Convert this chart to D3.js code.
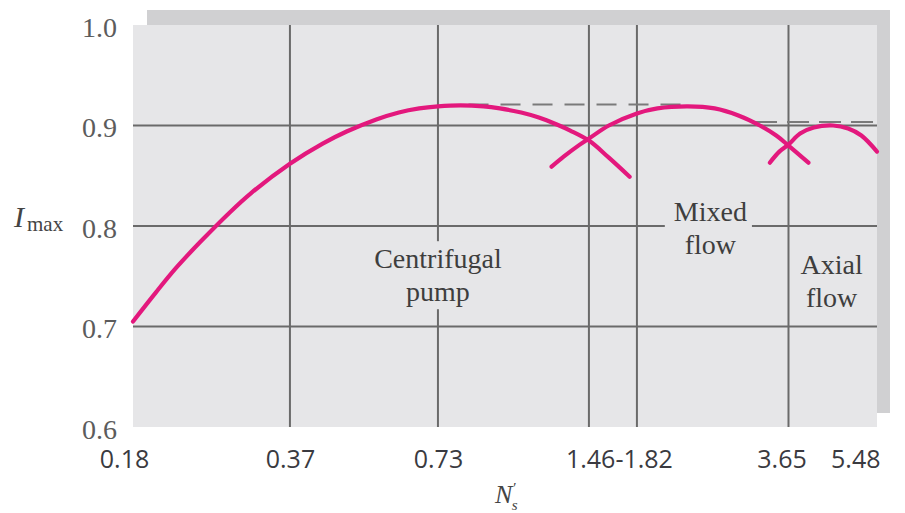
<!DOCTYPE html>
<html>
<head>
<meta charset="utf-8">
<script src="https://cdn.jsdelivr.net/npm/d3@7"></script>
<style>
  html, body { margin: 0; padding: 0; background: #ffffff; }
  svg { display: block; }
</style>
</head>
<body>
<svg id="chart" width="905" height="513"></svg>
<script>
// ---------------- data ----------------
const xTickLabels = ["0.18", "0.37", "0.73", "1.46-1.82", "3.65", "5.48"];
const xLabelValues = [0.18, 0.37, 0.73, [1.46, 1.82], 3.65, 5.48];
const xGridValues = [0.37, 0.73, 1.46, 1.82, 3.65];
const yTickValues = [0.6, 0.7, 0.8, 0.9, 1.0];
const yGridValues = [0.7, 0.8, 0.9];

const centrifugalN   = [0.18, 0.2, 0.22, 0.245, 0.28, 0.31, 0.37, 0.43, 0.48, 0.55, 0.61, 0.67, 0.73, 0.81, 0.9, 0.97, 1.07, 1.16, 1.26, 1.34, 1.46, 1.6, 1.76];
const centrifugalEta = [0.705, 0.734, 0.759, 0.784, 0.813, 0.833, 0.862, 0.882, 0.894, 0.906, 0.913, 0.917, 0.919, 0.920, 0.919, 0.917, 0.913, 0.908, 0.901, 0.895, 0.885, 0.868, 0.849];

const mixedN   = [1.23, 1.3, 1.4, 1.46, 1.6, 1.82, 2.0, 2.3, 2.6, 2.9, 3.2, 3.45, 3.65, 4.0];
const mixedEta = [0.859, 0.869, 0.881, 0.887, 0.900, 0.912, 0.917, 0.919, 0.917, 0.910, 0.900, 0.890, 0.880, 0.863];

const axialN   = [3.35, 3.5, 3.65, 3.85, 4.1, 4.48, 4.8, 5.1, 5.48];
const axialEta = [0.863, 0.874, 0.881, 0.892, 0.898, 0.900, 0.897, 0.890, 0.874];

const envelope1N = [0.84, 2.3];
const envelope1Eta = [0.921, 0.921];
const envelope2N = [3.13, 5.48];
const envelope2Eta = [0.9035, 0.9035];

const regionLabels = [
  { lines: ["Centrifugal", "pump"], n: 0.73, eta: 0.758 },
  { lines: ["Mixed", "flow"], n: 2.55, eta: 0.805 },
  { lines: ["Axial", "flow"], n: 4.45, eta: 0.752 }
];

// ---------------- layout ----------------
const svg = d3.select("#chart");
const plot = { left: 133, right: 877, top: 25, bottom: 427 };

const x = d3.scaleLog().domain([0.18, 5.48]).range([plot.left, plot.right]);
const y = d3.scaleLinear().domain([0.6, 1.0]).range([plot.bottom, plot.top]);

const plotBg = "#e6e6e8";
const gridColor = "#6a6a6a";
const curveColor = "#e3187d";

// shadow
svg.append("rect")
  .attr("x", plot.left + 14).attr("y", plot.top - 15)
  .attr("width", plot.right - plot.left - 1).attr("height", plot.bottom - plot.top + 1)
  .attr("fill", "#d0d0d2");

// plot background
svg.append("rect")
  .attr("x", plot.left).attr("y", plot.top)
  .attr("width", plot.right - plot.left).attr("height", plot.bottom - plot.top)
  .attr("fill", plotBg);

// grid
const grid = svg.append("g");
grid.selectAll("line.h").data(yGridValues).join("line")
  .attr("class", "h")
  .attr("x1", plot.left).attr("x2", plot.right)
  .attr("y1", d => y(d)).attr("y2", d => y(d))
  .attr("stroke", gridColor).attr("stroke-width", 2);
grid.selectAll("line.v").data(xGridValues).join("line")
  .attr("class", "v")
  .attr("x1", d => x(d)).attr("x2", d => x(d))
  .attr("y1", plot.top).attr("y2", plot.bottom)
  .attr("stroke", gridColor).attr("stroke-width", 2);

// region labels (with background knocking out the grid)
const labelG = svg.append("g");
regionLabels.forEach(lab => {
  const g = labelG.append("g");
  const t = g.append("text")
    .attr("text-anchor", "middle")
    .attr("font-family", "'Liberation Serif', 'Times New Roman', serif")
    .attr("font-size", 28)
    .attr("fill", "#3e3e3e");
  lab.lines.forEach((ln, i) => {
    t.append("tspan")
      .attr("x", x(lab.n))
      .attr("y", y(lab.eta) + i * 33)
      .text(ln);
  });
  const bb = t.node().getBBox();
  g.insert("rect", "text")
    .attr("x", bb.x - 9).attr("y", bb.y - 2)
    .attr("width", bb.width + 14).attr("height", bb.height + 4)
    .attr("fill", plotBg);
});

// envelope dashed lines
const line = d3.line().x(d => x(d[0])).y(d => y(d[1]));
[[envelope1N, envelope1Eta, "20 12"], [envelope2N, envelope2Eta, "22 10"]].forEach(([ns, es, dash]) => {
  svg.append("path")
    .attr("d", line(ns.map((n, i) => [n, es[i]])))
    .attr("fill", "none")
    .attr("stroke", "#7a7a7a")
    .attr("stroke-width", 2)
    .attr("stroke-dasharray", dash);
});

// efficiency curves
const curve = d3.line().x(d => x(d[0])).y(d => y(d[1])).curve(d3.curveCatmullRom.alpha(0.5));
[[centrifugalN, centrifugalEta], [mixedN, mixedEta], [axialN, axialEta]].forEach(([ns, es]) => {
  svg.append("path")
    .attr("d", curve(ns.map((n, i) => [n, es[i]])))
    .attr("fill", "none")
    .attr("stroke", curveColor)
    .attr("stroke-width", 4.2)
    .attr("stroke-linecap", "round");
});

// y axis tick labels
const yAxis = d3.axisLeft(y).tickValues(yTickValues).tickFormat(d3.format(".1f")).tickSize(0).tickPadding(16);
const yG = svg.append("g").attr("transform", `translate(${plot.left},0)`).call(yAxis);
yG.select(".domain").remove();
yG.selectAll("text")
  .attr("font-family", "'Liberation Serif', 'Times New Roman', serif")
  .attr("font-size", 28)
  .attr("fill", "#5c5c5c")
  .attr("dy", "0.4em");

// x axis tick labels
const labelPos = xLabelValues.map(v => Array.isArray(v) ? Math.sqrt(v[0] * v[1]) : v);
const xAxis = d3.axisBottom(x).tickValues(labelPos)
  .tickFormat((d, i) => xTickLabels[i]).tickSize(0).tickPadding(0);
const xG = svg.append("g").attr("transform", `translate(0,${plot.bottom})`).call(xAxis);
xG.select(".domain").remove();
xG.selectAll("text")
  .attr("font-family", "'Open Sans', 'DejaVu Sans', sans-serif")
  .attr("font-size", 25)
  .attr("fill", "#3a3a40")
  .attr("y", 41)
  .attr("dy", 0);
xG.selectAll(".tick").filter((d, i) => i === 0).select("text").attr("dx", -9);
xG.selectAll(".tick").filter((d, i) => i === xTickLabels.length - 1).select("text")
  .attr("text-anchor", "end").attr("dx", 3);
xG.selectAll(".tick").filter((d, i) => i === 3).select("text").attr("dx", 6);
xG.selectAll(".tick").filter((d, i) => i === 4).select("text").attr("dx", -7);

// x axis title N's
const xt = svg.append("text")
  .attr("x", 495).attr("y", 503)
  .attr("font-family", "'Liberation Serif', 'Times New Roman', serif")
  .attr("font-style", "italic")
  .attr("font-size", 26)
  .attr("fill", "#444");
xt.append("tspan").text("N");
xt.append("tspan").attr("font-size", 15).attr("dy", -10).attr("dx", 0).text("′");
xt.append("tspan").attr("font-size", 15).attr("dy", 17).attr("dx", -4).text("s");

// y axis title
const yt = svg.append("text")
  .attr("x", 14).attr("y", 227)
  .attr("font-family", "'Liberation Serif', 'Times New Roman', serif")
  .attr("fill", "#444");
yt.append("tspan").attr("font-size", 30).attr("font-style", "italic").text("I");
yt.append("tspan").attr("font-size", 21).attr("dx", 3).attr("dy", 4).text("max");
</script>
</body>
</html>
